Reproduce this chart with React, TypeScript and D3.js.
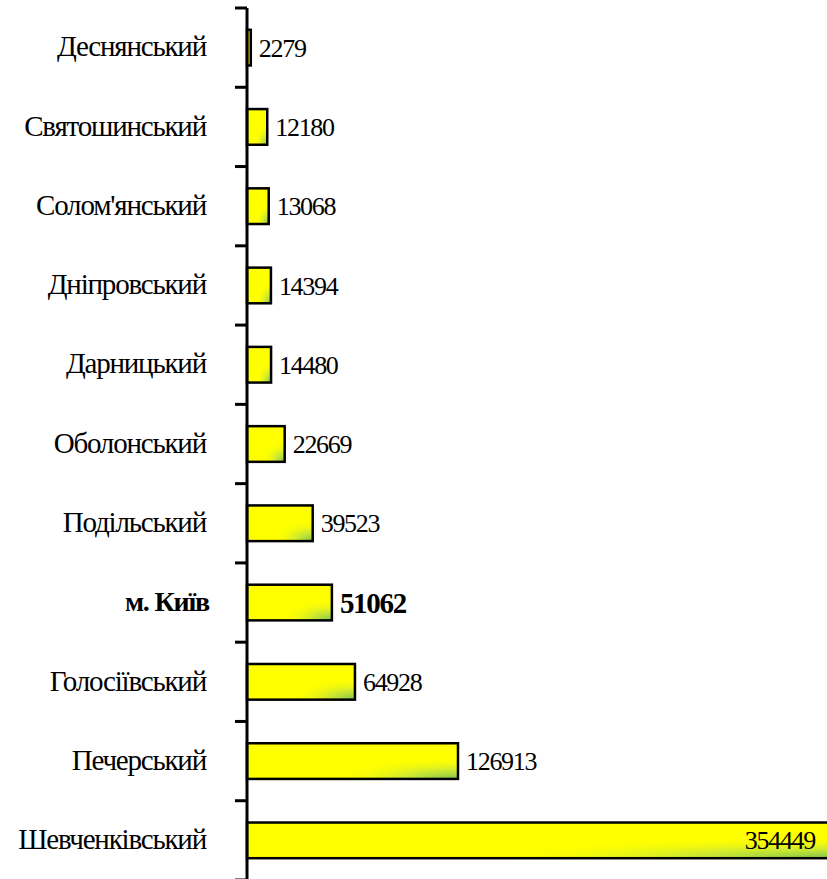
import React from "react";
import * as d3 from "d3";

const districts = [
  "Деснянський",
  "Святошинський",
  "Солом'янський",
  "Дніпровський",
  "Дарницький",
  "Оболонський",
  "Подільський",
  "м. Київ",
  "Голосіївський",
  "Печерський",
  "Шевченківський",
];

const values = [2279, 12180, 13068, 14394, 14480, 22669, 39523, 51062, 64928, 126913, 354449];

const highlighted = ["м. Київ"];

const W = 827;
const H = 879;
const margin = { top: 8, right: 0, bottom: 0, left: 247 };
const font = "'Liberation Serif', 'Times New Roman', serif";

export default function App() {
  const y = d3
    .scaleBand<string>()
    .domain(districts)
    .range([margin.top, H + 1])
    .paddingInner(0.55)
    .paddingOuter(0.275);

  // pixels per unit
  const x = d3.scaleLinear().domain([0, 126913]).range([margin.left, 458]);

  const step = y.step();
  const boundaries = d3.range(districts.length + 1).map((i) => margin.top + i * step);

  return (
    <svg
      width={W}
      height={H}
      style={{ position: "absolute", left: 0, top: 0, background: "#fff" }}
      fontFamily={font}
    >
      <defs>
        <radialGradient id="glow" cx="1" cy="1" r="0.6" fx="1" fy="1">
          <stop offset="0" stopColor="#5fb85a" stopOpacity={0.85} />
          <stop offset="0.45" stopColor="#a6d65a" stopOpacity={0.5} />
          <stop offset="1" stopColor="#ffff00" stopOpacity={0} />
        </radialGradient>
      </defs>

      {districts.map((d, i) => {
        const v = values[i];
        const y0 = y(d)!;
        const bh = y.bandwidth();
        const x1 = x(v);
        const bold = highlighted.includes(d);
        const inside = x1 > W - 20;
        return (
          <g key={d}>
            <rect x={margin.left} y={y0} width={x1 - margin.left} height={bh} fill="#ffff00" />
            <rect
              x={margin.left}
              y={y0}
              width={x1 - margin.left}
              height={bh}
              fill="url(#glow)"
              stroke="#000"
              strokeWidth={2.5}
            />
            <text
              x={bold ? 209 : 206}
              y={y0 + bh / 2}
              dy="0.3em"
              textAnchor="end"
              fontSize={bold ? 28 : 29}
              letterSpacing={-1.2}
              fontWeight={bold ? "bold" : "normal"}
            >
              {d}
            </text>
            <text
              x={inside ? 815 : x1 + 8}
              y={y0 + bh / 2}
              dy="0.35em"
              textAnchor={inside ? "end" : "start"}
              fontSize={bold ? 29 : 26}
              letterSpacing={-1.3}
              fontWeight={bold ? "bold" : "normal"}
            >
              {v}
            </text>
          </g>
        );
      })}

      <line x1={margin.left} x2={margin.left} y1={margin.top} y2={H} stroke="#000" strokeWidth={3} />
      {boundaries.map((b, i) => (
        <line key={i} x1={margin.left - 12} x2={margin.left} y1={b} y2={b} stroke="#000" strokeWidth={3} />
      ))}
    </svg>
  );
}
